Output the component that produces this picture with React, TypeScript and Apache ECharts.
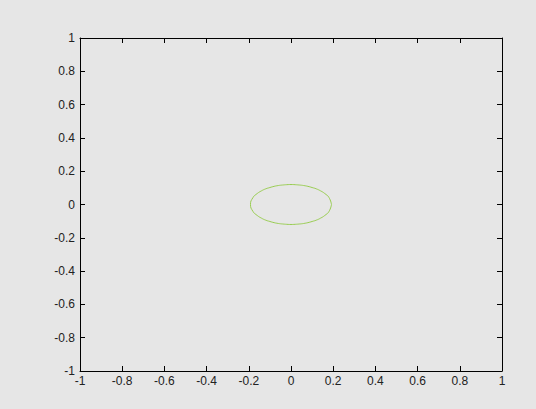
import React, { useEffect, useRef } from "react";
import * as echarts from "echarts";

const axisTicks = [-1, -0.8, -0.6, -0.4, -0.2, 0, 0.2, 0.4, 0.6, 0.8, 1];
const curveX = [0.192, 0.18, 0.16, 0.14, 0.12, 0.1, 0.08, 0.06, 0.04, 0.02, 0, -0.02, -0.04, -0.06, -0.08, -0.1, -0.12, -0.14, -0.16, -0.18, -0.192];
const curveTopY = [0, 0.042, 0.066, 0.082, 0.094, 0.102, 0.109, 0.114, 0.117, 0.119, 0.12, 0.119, 0.117, 0.114, 0.109, 0.102, 0.094, 0.082, 0.066, 0.042, 0];
const curveBottomY = [0, -0.042, -0.066, -0.082, -0.094, -0.102, -0.109, -0.114, -0.117, -0.119, -0.12, -0.119, -0.117, -0.114, -0.109, -0.102, -0.094, -0.082, -0.066, -0.042, 0];

export default function App() {
  const ref = useRef<HTMLDivElement>(null);
  useEffect(() => {
    if (!ref.current) return;
    const chart = echarts.init(ref.current, undefined, { renderer: "svg" });
    const pts: [number, number][] = [];
    curveX.forEach((x, i) => pts.push([x, curveTopY[i]]));
    for (let i = curveX.length - 1; i >= 0; i--) pts.push([curveX[i], curveBottomY[i]]);
    const fmt = (v: number) => {
      let s = String(parseFloat(Number(v).toFixed(1)));
      if (s === "-0") s = "0";
      return s;
    };
    const lbl = { color: "#222", fontSize: 12, fontFamily: "Liberation Sans, Arial, sans-serif", formatter: fmt };
    const tickStyle = { show: true, inside: true, length: 5, lineStyle: { color: "#000", width: 1 } };
    const lineStyle = { show: true, onZero: false, lineStyle: { color: "#000", width: 1 } };
    const step = 0.2;
    const common = {
      type: "value" as const,
      min: axisTicks[0],
      max: axisTicks[axisTicks.length - 1],
      interval: step,
      splitLine: { show: false },
      axisLine: lineStyle,
      axisTick: tickStyle,
    };
    chart.setOption({
      animation: false,
      backgroundColor: "#e6e6e6",
      grid: { left: 80, right: 34, top: 38, bottom: 38, containLabel: false, outerBoundsMode: "none" },
      xAxis: [
        { ...common, position: "bottom", axisLabel: { ...lbl, margin: 4 } },
        { ...common, position: "top", axisLabel: { show: false } },
      ],
      yAxis: [
        { ...common, position: "left", axisLabel: { ...lbl, margin: 5 } },
        { ...common, position: "right", axisLabel: { show: false } },
      ],
      series: [
        {
          type: "line",
          data: pts,
          showSymbol: false,
          smooth: true,
          lineStyle: { color: "#98cc50", width: 1 },
          xAxisIndex: 0,
          yAxisIndex: 0,
        },
      ],
    });
    return () => chart.dispose();
  }, []);
  return <div ref={ref} style={{ position: "fixed", left: 0, top: 0, width: 536, height: 409 }} />;
}
